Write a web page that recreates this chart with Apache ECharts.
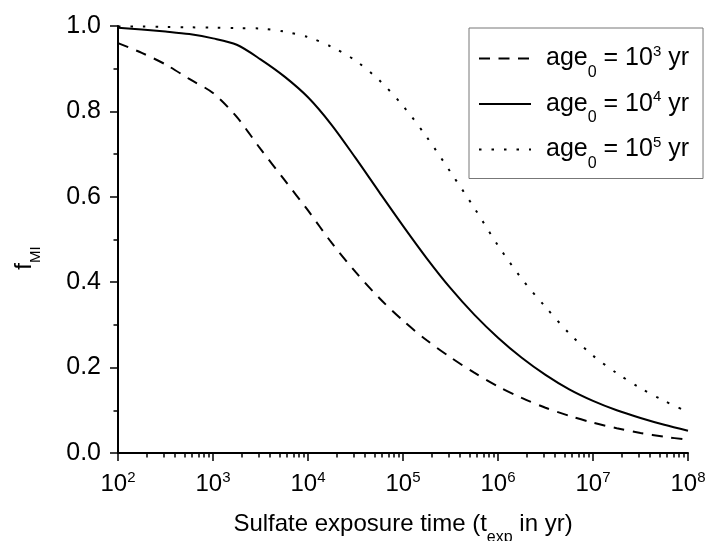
<!DOCTYPE html>
<html><head><meta charset="utf-8">
<script src="https://cdn.jsdelivr.net/npm/echarts@6/dist/echarts.min.js"></script>
<style>html,body{margin:0;padding:0;background:#fff}#c{width:705px;height:541px}</style>
</head><body><div id="c"></div>
<script>
// log10 of exposure time (yr)
const logT = [2.00,2.25,2.50,2.75,3.00,3.25,3.50,3.75,4.00,4.25,4.50,4.75,5.00,5.25,5.50,5.75,6.00,6.25,6.50,6.75,7.00,7.25,7.50,7.75,8.00];
// f_MI for age0 = 10^3, 10^4, 10^5 yr
const fAge3 = [0.960,0.937,0.910,0.876,0.843,0.787,0.712,0.640,0.568,0.492,0.424,0.363,0.310,0.264,0.224,0.188,0.156,0.129,0.106,0.087,0.071,0.058,0.047,0.038,0.031];
const fAge4 = [0.996,0.992,0.987,0.981,0.971,0.956,0.922,0.882,0.833,0.768,0.691,0.611,0.532,0.456,0.386,0.324,0.270,0.223,0.183,0.149,0.122,0.100,0.082,0.066,0.052];
const fAge5 = [0.999,0.999,0.998,0.997,0.996,0.995,0.994,0.987,0.974,0.951,0.919,0.873,0.813,0.740,0.658,0.574,0.486,0.408,0.342,0.280,0.228,0.187,0.152,0.122,0.096];
const ageExponents = [3, 4, 5];
const xTickExponents = [2, 3, 4, 5, 6, 7, 8];
const yTickValues = [0.0, 0.2, 0.4, 0.6, 0.8, 1.0];

const FONT = 'Liberation Sans';
const seriesNames = ageExponents.map(e => 'age0 = 10^' + e + ' yr');
const majorX = xTickExponents.map(e => Math.pow(10, e));
const minorX = [];
for (let i = 0; i < xTickExponents.length - 1; i++) {
  for (let m = 2; m <= 9; m++) minorX.push(m * Math.pow(10, xTickExponents[i]));
}
const toData = arr => logT.map((l, i) => [Math.pow(10, l), arr[i]]);
const dashTypes = [[11, 8.5], 'solid', [2.5, 10]];
const values = [fAge3, fAge4, fAge5];

function rich(fs) {
  return {
    m: {fontSize: fs, fontFamily: FONT, color: '#000'},
    m0: {fontSize: fs, fontFamily: FONT, color: '#000', padding: [0, 0, 0, 10]},
    sb: {fontSize: 16, fontFamily: FONT, color: '#000', padding: [28, 0, 0, 0]},
    sp: {fontSize: 15, fontFamily: FONT, color: '#000', padding: [0, 0, 14, 0]}
  };
}

const chart = echarts.init(document.getElementById('c'));
chart.setOption({
  animation: false,
  backgroundColor: '#fff',
  grid: {left: 118, right: 17, top: 26, bottom: 88, containLabel: false, outerBoundsMode: 'none'},
  legend: {
    orient: 'vertical', left: 469, top: 28,
    padding: [16, 14, 7, 9], itemGap: 9,
    itemWidth: 52, itemHeight: 14,
    borderColor: '#777', borderWidth: 1,
    itemStyle: {opacity: 0},
    data: seriesNames,
    formatter: name => {
      const e = ageExponents[seriesNames.indexOf(name)];
      return '{m0|age}{sb|0}{m| = 10}{sp|' + e + '}{m| yr}';
    },
    textStyle: {rich: rich(25)}
  },
  xAxis: [{
    type: 'log', logBase: 10, min: 100, max: 1e8,
    name: '{m|Sulfate exposure time (t}{sb|exp}{m| in yr)}',
    nameLocation: 'middle', nameGap: 49,
    nameTextStyle: {rich: rich(24)},
    axisLine: {lineStyle: {color: '#000', width: 2}},
    axisTick: {customValues: majorX, length: 8, lineStyle: {color: '#000', width: 1.5}},
    axisLabel: {
      customValues: majorX, margin: 17,
      formatter: v => '{m|10}{sp|' + Math.round(Math.log10(v)) + '}',
      rich: rich(24)
    },
    splitLine: {show: false}, minorTick: {show: false}
  }, {
    type: 'log', logBase: 10, min: 100, max: 1e8, position: 'bottom',
    axisLine: {show: false},
    axisTick: {customValues: minorX, length: 4.5, lineStyle: {color: '#000', width: 1.5}},
    axisLabel: {show: false},
    splitLine: {show: false}
  }],
  yAxis: {
    type: 'value', min: 0, max: 1, interval: 0.2,
    axisLine: {show: true, lineStyle: {color: '#000', width: 2}},
    axisTick: {show: true, length: 8, lineStyle: {color: '#000', width: 1.5}},
    minorTick: {show: true, splitNumber: 2, length: 4.5, lineStyle: {color: '#000', width: 1.5}},
    axisLabel: {
      margin: 17, fontSize: 25, fontFamily: FONT, color: '#000',
      customValues: yTickValues,
      formatter: v => v.toFixed(1)
    },
    splitLine: {show: false}
  },
  graphic: [{
    type: 'text', x: 24, y: 258, rotation: Math.PI / 2,
    style: {
      text: '{f|f}{s|MI}', align: 'center', verticalAlign: 'middle',
      rich: {
        f: {fontSize: 24, fontFamily: FONT, fill: '#000', color: '#000'},
        s: {fontSize: 15, fontFamily: FONT, fill: '#000', color: '#000', padding: [24, 0, 0, 0]}
      }
    }
  }],
  series: values.map((arr, i) => ({
    name: seriesNames[i], type: 'line', xAxisIndex: 0,
    data: toData(arr), smooth: 0.3, symbol: 'none',
    lineStyle: {color: '#000', width: 2, type: dashTypes[i]},
    itemStyle: {color: '#000'}
  }))
});
</script></body></html>
